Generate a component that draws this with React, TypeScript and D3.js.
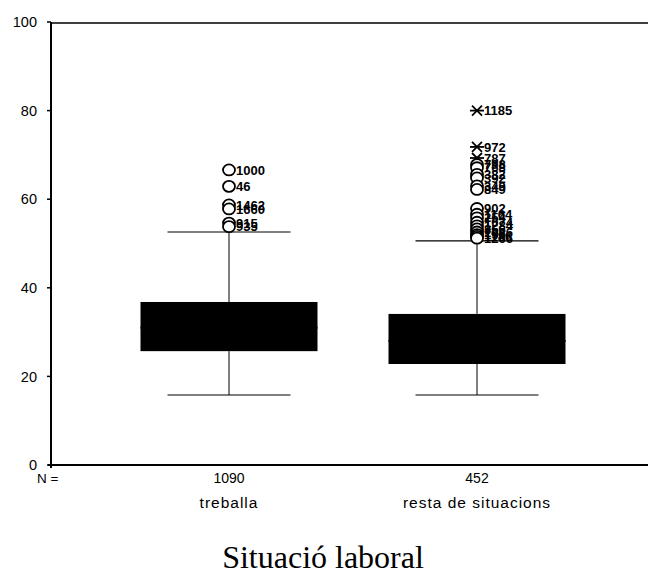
import React from "react";
import * as d3 from "d3";

const categories = ["treballa", "resta de situacions"];
const counts = ["1090", "452"];
const q1 = [25.7, 22.8];
const q3 = [36.8, 34.1];
const median = [31, 28];
const whiskerLow = [15.8, 15.8];
const whiskerHigh = [52.6, 50.6];
const yTicks = [0, 20, 40, 60, 80, 100];

// outliers: group index, value, label, kind ("o" = circle, "x" = extreme)
const outGroup = [0, 0, 0, 0, 0, 0, 1, 1, 1, 1, 1, 1, 1, 1, 1, 1, 1, 1, 1, 1, 1, 1, 1, 1, 1];
const outValue = [66.6, 62.9, 58.7, 57.8, 54.6, 53.8, 80.0, 71.8, 69.3, 67.8, 67.1, 65.6, 64.8, 63.0, 62.2, 57.9, 56.6, 55.8, 54.8, 54.0, 53.3, 52.6, 52.0, 51.6, 51.2];
const outLabel = ["1000", "46", "1462", "1660", "915", "935", "1185", "972", "787", "798", "768", "382", "392", "349", "849", "902", "1164", "254", "1074", "1284", "856", "1086", "196", "1186", "1266"];
const outKind = ["o", "o", "o", "o", "o", "o", "x", "x", "x", "o", "o", "o", "o", "o", "o", "o", "o", "o", "o", "o", "o", "o", "o", "o", "o"];

export default function App() {
  const W = 648, H = 575;
  const left = 51, top = 22, bottom = 465, right = 648;
  const y = d3.scaleLinear().domain([0, 100]).range([bottom, top]);
  const x = d3.scalePoint<string>().domain(categories).range([229, 477]);
  const boxHalf = 88.5;
  const capHalf = 61.5;
  const font = "'Liberation Sans', Arial, sans-serif";

  return (
    <svg width={W} height={H} style={{ position: "absolute", left: 0, top: 0, background: "#fff" }}>
      <line x1={left} x2={right} y1={top + 1} y2={top + 1} stroke="#000" strokeWidth={1.5} />
      <line x1={left} x2={left} y1={top} y2={bottom + 3} stroke="#000" strokeWidth={2} />
      <line x1={left - 3} x2={right} y1={bottom} y2={bottom} stroke="#000" strokeWidth={2} />
      {yTicks.map((t) => (
        <g key={t}>
          <line x1={left - 4} x2={left} y1={y(t)} y2={y(t)} stroke="#000" strokeWidth={1.5} />
          <text x={37} y={y(t)} dy="0.36em" textAnchor="end" fontFamily={font} fontSize={14.5}>{t}</text>
        </g>
      ))}
      {categories.map((c, i) => {
        const cx = x(c)!;
        return (
          <g key={c}>
            <line x1={cx} x2={cx} y1={y(whiskerHigh[i])} y2={y(q3[i])} stroke="#000" strokeWidth={1} />
            <line x1={cx} x2={cx} y1={y(q1[i])} y2={y(whiskerLow[i])} stroke="#000" strokeWidth={1} />
            <line x1={cx - capHalf} x2={cx + capHalf} y1={y(whiskerHigh[i])} y2={y(whiskerHigh[i])} stroke="#000" strokeWidth={1.2} />
            <line x1={cx - capHalf} x2={cx + capHalf} y1={y(whiskerLow[i])} y2={y(whiskerLow[i])} stroke="#000" strokeWidth={1.2} />
            <rect x={cx - boxHalf} y={y(q3[i])} width={boxHalf * 2} height={y(q1[i]) - y(q3[i])} fill="#000" />
            <line x1={cx - boxHalf} x2={cx + boxHalf} y1={y(median[i])} y2={y(median[i])} stroke="#000" strokeWidth={2} />
            <text x={cx} y={483} textAnchor="middle" fontFamily={font} fontSize={14}>{counts[i]}</text>
            <text x={cx} y={508} textAnchor="middle" fontFamily={font} fontSize={15.5} letterSpacing={1}>{c}</text>
          </g>
        );
      })}
      <text x={37} y={483} fontFamily={font} fontSize={13.5}>N =</text>
      {outValue.map((v, k) => {
        const cx = x(categories[outGroup[k]])!;
        const cy = y(v);
        return (
          <g key={k}>
            {outKind[k] === "o" ? (
              <ellipse cx={cx} cy={cy} rx={6} ry={5.5} fill="#fff" stroke="#000" strokeWidth={1.8} />
            ) : (
              <g stroke="#000" strokeWidth={1.8}>
                <line x1={cx - 5} x2={cx + 5} y1={cy - 5} y2={cy + 5} />
                <line x1={cx - 5} x2={cx + 5} y1={cy + 5} y2={cy - 5} />
                <line x1={cx - 7} x2={cx + 7} y1={cy} y2={cy} />
              </g>
            )}
            <text x={cx + 7} y={cy} dy="0.36em" fontFamily={font} fontSize={13} fontWeight={600}>{outLabel[k]}</text>
          </g>
        );
      })}
      <text x={323} y={568} textAnchor="middle" fontFamily="'Liberation Serif', 'Times New Roman', serif" fontSize={32}>Situació laboral</text>
    </svg>
  );
}
